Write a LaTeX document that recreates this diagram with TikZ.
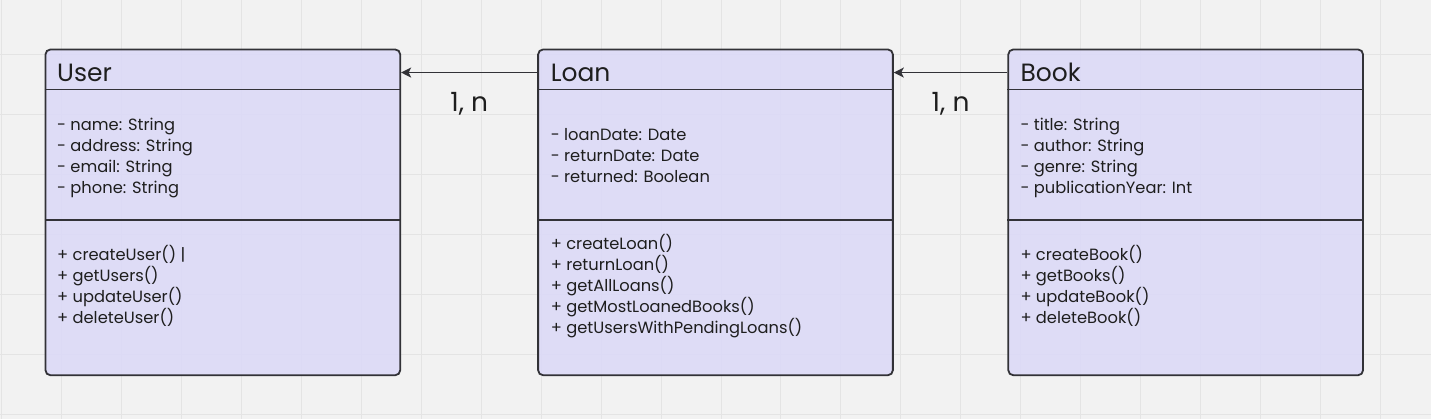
\documentclass[tikz,border=0pt]{standalone}
\usepackage{fontspec}
\setmainfont{Poppins}
\usepackage{xcolor}
\usepackage{tikz}
\usetikzlibrary{positioning,calc,arrows.meta}
\definecolor{BoardGray}{RGB}{242,242,242}
\definecolor{GridGray}{RGB}{228,228,228}
\definecolor{ClassLilac}{RGB}{220,218,247}
\definecolor{EdgeDark}{RGB}{50,50,55}
\definecolor{InkDark}{RGB}{30,30,30}

\begin{document}
\begin{tikzpicture}[
		x=1pt, y=-1pt,
		classbox/.style={draw=EdgeDark, fill=ClassLilac, fill opacity=0.9, line width=1.8pt, rounded corners=5pt, minimum width=355pt, minimum height=326pt, inner sep=0pt},
		divider/.style={draw=EdgeDark, line width=1.8pt},
		title/.style={font=\fontsize{25}{30}\selectfont, text=InkDark, anchor=base west, inner sep=0pt},
		member/.style={font=\fontsize{16.3}{21}\selectfont, text=InkDark, anchor=base west, inner sep=0pt},
		assoc/.style={draw=EdgeDark, line width=1.8pt, -{Stealth[length=10pt, width=10pt, inset=2.5pt]}},
		mult/.style={font=\fontsize{26.5}{30}\selectfont, text=InkDark, inner sep=0pt, anchor=base, yshift=-39pt}
		]
		
		% ===== board =====
		\fill[BoardGray] (0,0) rectangle (1431,419);
		\foreach \gx in {1,61,...,1431}{
			\draw[GridGray, line width=1pt] (\gx,0) -- (\gx,419);
		}
		\foreach \gy in {54,114,...,419}{
			\draw[GridGray, line width=1pt] (0,\gy) -- (1431,\gy);
		}
		\useasboundingbox (0,0) rectangle (1431,419);
		
		% ===== classes =====
		\node[classbox] (user) at (222.5,212) {};
		\node[classbox] (loan) at (715.5,212) {};
		\node[classbox] (book) at (1186,212) {};
		
		\foreach \c in {user,loan,book}{
			\draw[divider] ($(\c.north west)+(0,41)$) -- ($(\c.north east)+(0,41)$);
			\draw[divider] ($(\c.north west)+(0,171.5)$) -- ($(\c.north east)+(0,171.5)$);
		}
		
		\node[title] (usertitle) at (56.5,81) {User};
		\node[title] (loantitle) at (550.5,81) {Loan};
		\node[title] (booktitle) at (1020.5,81) {Book};
		
		% ===== User =====
		\foreach \t [count=\i from 0] in {- name: String, - address: String, - email: String, - phone: String}{
			\node[member] (userattr\i) at (56.5,{130.5+21*\i}) {\t};
		}
		\foreach \t [count=\i from 0] in {+ createUser() |, + getUsers(), + updateUser(), + deleteUser()}{
			\node[member] (userop\i) at (56.5,{260+21*\i}) {\t};
		}
		
		% ===== Loan =====
		\foreach \t [count=\i from 0] in {- loanDate: Date, - returnDate: Date, - returned: Boolean}{
			\node[member] (loanattr\i) at (550.5,{140+21*\i}) {\t};
		}
		\foreach \t [count=\i from 0] in {+ createLoan(), + returnLoan(), + getAllLoans(), + getMostLoanedBooks(), + getUsersWithPendingLoans()}{
			\node[member] (loanop\i) at (550.5,{249.5+21*\i}) {\t};
		}
		
		% ===== Book =====
		\foreach \t [count=\i from 0] in {- title: String, - author: String, - genre: String, - publicationYear: Int}{
			\node[member] (bookattr\i) at (1020.5,{130+21*\i}) {\t};
		}
		\foreach \t [count=\i from 0] in {+ createBook(), + getBooks(), + updateBook(), + deleteBook()}{
			\node[member] (bookop\i) at (1020.5,{260+21*\i}) {\t};
		}
		
		% ===== associations =====
		\draw[assoc] ($(loan.north west)+(0,24)$) -- node[mult] (usermult) {1, n} ($(user.north east)+(0,24)$);
		\draw[assoc] ($(book.north west)+(0,24)$) -- node[mult] (loanmult) {1, n} ($(loan.north east)+(0,24)$);
		
	\end{tikzpicture}
\end{document}
